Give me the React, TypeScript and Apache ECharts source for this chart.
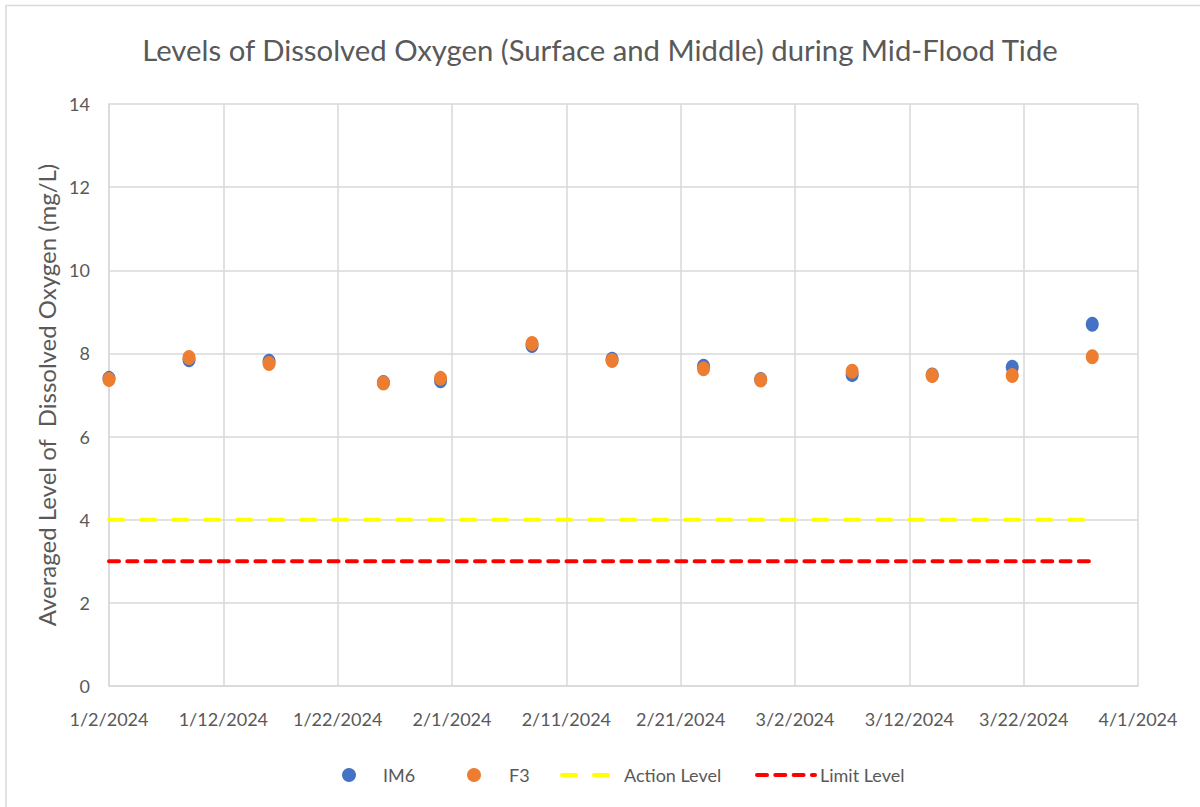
import React, { useEffect, useRef } from "react";
import * as echarts from "echarts";

const dates = [
  "2024-01-02", "2024-01-09", "2024-01-16", "2024-01-26", "2024-01-31",
  "2024-02-08", "2024-02-15", "2024-02-23", "2024-02-28", "2024-03-07",
  "2024-03-14", "2024-03-21", "2024-03-28",
];
const im6 = [7.40, 7.85, 7.81, 7.30, 7.34, 8.19, 7.86, 7.69, 7.37, 7.49, 7.48, 7.67, 8.70];
const f3 = [7.37, 7.90, 7.76, 7.29, 7.40, 8.24, 7.83, 7.63, 7.36, 7.57, 7.47, 7.47, 7.92];
const actionLevel = 4;
const limitLevel = 3;
const levelStart = "2024-01-02";
const levelEnd = "2024-03-28";
const axisStart = "2024-01-02";
const axisEnd = "2024-04-01";
const yTicks = { min: 0, max: 14, interval: 2 };

const DAY = 86400000;
const toMs = (s: string) => {
  const [y, m, d] = s.split("-").map(Number);
  return Date.UTC(y, m - 1, d);
};
const base = toMs(axisStart);
const toDay = (s: string) => (toMs(s) - base) / DAY;
const dayLabel = (v: number) => {
  const dt = new Date(base + v * DAY);
  return `${dt.getUTCMonth() + 1}/${dt.getUTCDate()}/${dt.getUTCFullYear()}`;
};

const FONT = "Lato";
const TXT = "#595959";

export default function App() {
  const ref = useRef<HTMLDivElement>(null);
  useEffect(() => {
    if (!ref.current) return;
    const chart = echarts.init(ref.current, null, { renderer: "svg" });
    const textStyle = { color: TXT, fontFamily: FONT, fontSize: 18 };
    chart.setOption({
      animation: false,
      backgroundColor: "#ffffff",
      textStyle: { fontFamily: FONT },
      title: {
        text: "Levels of Dissolved Oxygen (Surface and Middle) during Mid-Flood Tide",
        left: "center",
        top: 30,
        textStyle: { color: TXT, fontFamily: FONT, fontSize: 29.3, fontWeight: "normal" },
      },
      graphic: [
        {
          type: "rect",
          shape: { x: 6, y: 5.5, width: 1400, height: 1000 },
          style: { fill: "none", stroke: "#d9d9d9", lineWidth: 1.5 },
          silent: true,
          z: -10,
        },
      ],
      grid: { left: 109, right: 62, top: 104, bottom: 121 },
      xAxis: {
        type: "value",
        min: 0,
        max: toDay(axisEnd),
        interval: 10,
        axisLine: { show: true, lineStyle: { color: "#d9d9d9", width: 1.5 } },
        axisTick: { show: false },
        splitLine: { show: true, lineStyle: { color: "#d9d9d9", width: 1.5 } },
        axisLabel: { ...textStyle, margin: 24, formatter: (v: number) => dayLabel(v) },
      },
      yAxis: {
        type: "value",
        min: yTicks.min,
        max: yTicks.max,
        interval: yTicks.interval,
        name: "Averaged Level of  Dissolved Oxygen (mg/L)",
        nameLocation: "middle",
        nameGap: 46,
        nameTextStyle: { color: TXT, fontFamily: FONT, fontSize: 24 },
        axisLine: { show: true, lineStyle: { color: "#d9d9d9", width: 1.5 } },
        axisTick: { show: false },
        splitLine: { show: true, lineStyle: { color: "#d9d9d9", width: 1.5 } },
        axisLabel: { ...textStyle, margin: 19 },
      },
      legend: [
        {
          data: [{ name: "IM6", icon: "circle" }],
          left: 337, top: 761, itemWidth: 14, itemHeight: 15, itemGap: 0,
          textStyle: { ...textStyle, padding: [0, 0, 0, 22] },
        },
        {
          data: [{ name: "F3", icon: "circle" }],
          left: 462, top: 761, itemWidth: 14, itemHeight: 15, itemGap: 0,
          textStyle: { ...textStyle, padding: [0, 0, 0, 23] },
        },
        {
          data: ["Action Level"],
          left: 555, top: 761, itemWidth: 47, itemHeight: 15, itemGap: 0,
          itemStyle: { opacity: 0 },
          lineStyle: { width: 4 },
          textStyle: { ...textStyle, padding: [0, 0, 0, 10] },
        },
        {
          data: ["Limit Level"],
          left: 750, top: 761, itemWidth: 58, itemHeight: 15, itemGap: 0,
          itemStyle: { opacity: 0 },
          lineStyle: { width: 4 },
          textStyle: { ...textStyle, padding: [0, 0, 0, 0] },
        },
      ],
      series: [
        {
          name: "IM6",
          type: "scatter",
          symbol: "circle",
          symbolSize: [13, 15],
          itemStyle: { color: "#4472C4", opacity: 1 },
          data: dates.map((d, i) => [toDay(d), im6[i]]),
          z: 3,
        },
        {
          name: "F3",
          type: "scatter",
          symbol: "circle",
          symbolSize: [13, 15],
          itemStyle: { color: "#ED7D31", opacity: 1 },
          data: dates.map((d, i) => [toDay(d), f3[i]]),
          z: 4,
        },
        {
          name: "Action Level",
          type: "line",
          symbol: "none",
          color: "#FFFF00",
          lineStyle: { color: "#FFFF00", width: 4, type: [14, 18], cap: "round" },
          data: [[toDay(levelStart), actionLevel], [toDay(levelEnd), actionLevel]],
          z: 2,
        },
        {
          name: "Limit Level",
          type: "line",
          symbol: "none",
          color: "#FF0000",
          lineStyle: { color: "#FF0000", width: 4, type: [10, 8.3], cap: "round" },
          data: [[toDay(levelStart), limitLevel], [toDay(levelEnd), limitLevel]],
          z: 2,
        },
      ],
    });
    return () => chart.dispose();
  }, []);
  return (
    <div
      ref={ref}
      style={{ position: "absolute", left: 0, top: 0, width: 1200, height: 807 }}
    />
  );
}
